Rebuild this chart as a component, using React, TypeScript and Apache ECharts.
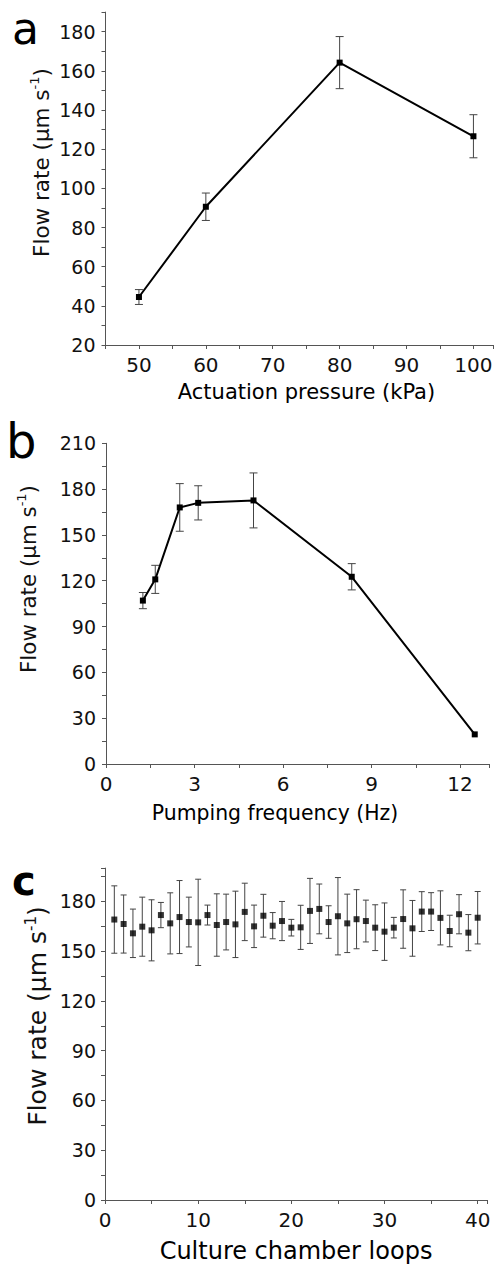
import React, { useEffect, useRef } from "react";
import * as echarts from "echarts";

// ---- Panel a: flow rate vs actuation pressure ----
const pressureKPa = [50, 60, 80, 100];
const flowA = [44.5, 90.6, 164.2, 126.6];
const errA = [3.8, 7.0, 13.3, 11.0];

// ---- Panel b: flow rate vs pumping frequency ----
const freqHz = [1.25, 1.67, 2.5, 3.125, 5, 8.33, 12.5];
const flowB = [107.0, 120.9, 168.0, 171.0, 172.6, 122.6, 19.4];
const errB = [5.3, 9.2, 15.6, 11.2, 18.0, 8.6, 0];

// ---- Panel c: flow rate per culture chamber loop ----
const loops = [
  1, 2, 3, 4, 5, 6, 7, 8, 9, 10, 11, 12, 13, 14, 15, 16, 17, 18, 19, 20,
  21, 22, 23, 24, 25, 26, 27, 28, 29, 30, 31, 32, 33, 34, 35, 36, 37, 38, 39, 40,
];
const flowC = [
  169.0, 166.3, 160.7, 164.7, 162.5, 171.7, 166.7, 170.5, 167.5, 167.3,
  171.7, 165.7, 167.5, 166.1, 173.6, 164.9, 171.3, 165.3, 168.1, 164.1,
  164.3, 174.2, 175.4, 167.5, 171.0, 166.7, 169.2, 168.1, 164.1, 161.7,
  164.1, 169.3, 163.7, 173.8, 173.8, 170.0, 162.1, 172.2, 161.1, 170.1,
];
const errC = [
  20.3, 17.5, 14.6, 17.8, 18.4, 7.6, 18.4, 22.0, 15.0, 26.0,
  6.0, 18.8, 16.8, 20.0, 17.3, 12.8, 12.9, 7.9, 11.8, 5.0,
  13.3, 19.6, 15.0, 9.8, 23.3, 17.6, 17.8, 12.6, 13.8, 17.3,
  6.2, 17.6, 16.8, 12.0, 11.4, 16.3, 9.5, 11.8, 10.9, 15.8,
];

const yTitle = "{t|Flow rate (μm s}{s|-1}{t|)}";
const titleA = "Actuation pressure (kPa)";
const titleB = "Pumping frequency (Hz)";
const titleC = "Culture chamber loops";

const FONT = "'DejaVu Sans', 'Liberation Sans', Arial, sans-serif";
const AXIS_COLOR = "#555";
const LABEL_COLOR = "#111";

function axisBase(fontSize: number) {
  return {
    type: "value" as const,
    axisLine: { show: true, onZero: false, lineStyle: { color: AXIS_COLOR, width: 1 } },
    axisTick: { show: true, length: 4, lineStyle: { color: AXIS_COLOR, width: 1 } },
    splitLine: { show: false },
    axisLabel: { color: LABEL_COLOR, fontFamily: FONT, fontSize, margin: 10 },
  };
}

function labelEvery(step: number, maxLabel: number) {
  return (v: number) => {
    const r = Math.abs(v / step - Math.round(v / step));
    return r < 1e-6 && v <= maxLabel + 1e-6 ? String(Math.round(v * 100) / 100) : "";
  };
}

function errorBars(idx: number, xs: number[], ys: number[], es: number[], cap: number) {
  return {
    type: "custom" as const,
    xAxisIndex: idx,
    yAxisIndex: idx,
    z: 1,
    silent: true,
    encode: { x: 0, y: 1 },
    data: xs.map((x, i) => [x, ys[i], es[i]]),
    renderItem: (_p: any, api: any) => {
      const x = api.value(0);
      const m = api.value(1);
      const e = api.value(2);
      if (!e) return { type: "group", children: [] };
      const hi = api.coord([x, m + e]);
      const lo = api.coord([x, m - e]);
      const style = { stroke: "#444", lineWidth: 1 };
      return {
        type: "group",
        children: [
          { type: "line", shape: { x1: hi[0], y1: hi[1], x2: lo[0], y2: lo[1] }, style },
          { type: "line", shape: { x1: hi[0] - cap, y1: hi[1], x2: hi[0] + cap, y2: hi[1] }, style },
          { type: "line", shape: { x1: lo[0] - cap, y1: lo[1], x2: lo[0] + cap, y2: lo[1] }, style },
        ],
      };
    },
  };
}

function yTitleText(x: number, y: number, fs: number) {
  return {
    type: "text",
    x,
    y,
    rotation: Math.PI / 2,
    silent: true,
    style: {
      text: yTitle,
      fill: LABEL_COLOR,
      align: "center",
      verticalAlign: "middle",
      fontFamily: FONT,
      fontSize: fs,
      rich: {
        t: { fontFamily: FONT, fontSize: fs, fill: LABEL_COLOR },
        s: { fontFamily: FONT, fontSize: Math.round(fs * 0.6), fill: LABEL_COLOR, padding: [0, 0, 14, 0] },
      },
    },
  };
}

function plainText(x: number, y: number, text: string, fs: number, weight = "normal", align = "center") {
  return {
    type: "text",
    x,
    y,
    silent: true,
    style: {
      text,
      fill: "#000",
      align,
      verticalAlign: "middle",
      fontFamily: FONT,
      fontSize: fs,
      fontWeight: weight,
    },
  };
}

export default function App() {
  const ref = useRef<HTMLDivElement>(null);

  useEffect(() => {
    document.body.style.margin = "0";
    if (!ref.current) return;
    const chart = echarts.init(ref.current, undefined, { renderer: "svg" });

    const option: any = {
      animation: false,
      backgroundColor: "#fff",
      textStyle: { fontFamily: FONT },
      grid: [
        { left: 105.5, top: 12.1, width: 388, height: 332.9, outerBoundsMode: "none" },
        { left: 106, top: 443.3, width: 383.5, height: 320.7, outerBoundsMode: "none" },
        { left: 105, top: 868.1, width: 382, height: 331.9, outerBoundsMode: "none" },
      ],
      xAxis: [
        {
          ...axisBase(20), gridIndex: 0, min: 45, max: 103, interval: 5,
          axisLabel: { ...axisBase(20).axisLabel, formatter: labelEvery(10, 100) },
        },
        {
          ...axisBase(20), gridIndex: 1, min: 0, max: 13, interval: 1.5,
          axisLabel: { ...axisBase(20).axisLabel, formatter: labelEvery(3, 12) },
        },
        {
          ...axisBase(20), gridIndex: 2, min: 0, max: 41, interval: 5,
          axisLabel: { ...axisBase(20).axisLabel, formatter: labelEvery(10, 40) },
        },
      ],
      yAxis: [
        {
          ...axisBase(19), gridIndex: 0, min: 20, max: 190, interval: 10,
          axisLabel: { ...axisBase(19).axisLabel, formatter: labelEvery(20, 180) },
        },
        {
          ...axisBase(19), gridIndex: 1, min: 0, max: 210, interval: 15,
          axisLabel: { ...axisBase(19).axisLabel, formatter: labelEvery(30, 210) },
        },
        {
          ...axisBase(19), gridIndex: 2, min: 0, max: 200, interval: 15,
          axisLabel: { ...axisBase(19).axisLabel, margin: 9, formatter: labelEvery(30, 180) },
        },
      ],
      series: [
        errorBars(0, pressureKPa, flowA, errA, 4),
        {
          type: "line", xAxisIndex: 0, yAxisIndex: 0, z: 3,
          data: pressureKPa.map((x, i) => [x, flowA[i]]),
          symbol: "rect", symbolSize: 6, showSymbol: true,
          itemStyle: { color: "#000" },
          lineStyle: { color: "#000", width: 2 },
        },
        errorBars(1, freqHz, flowB, errB, 4),
        {
          type: "line", xAxisIndex: 1, yAxisIndex: 1, z: 3,
          data: freqHz.map((x, i) => [x, flowB[i]]),
          symbol: "rect", symbolSize: 6, showSymbol: true,
          itemStyle: { color: "#000" },
          lineStyle: { color: "#000", width: 2 },
        },
        errorBars(2, loops, flowC, errC, 3),
        {
          type: "scatter", xAxisIndex: 2, yAxisIndex: 2, z: 3,
          data: loops.map((x, i) => [x, flowC[i]]),
          symbol: "rect", symbolSize: 6,
          itemStyle: { color: "#000" },
        },
      ],
      graphic: [
        plainText(12, 28.5, "a", 44, "normal", "left"),
        plainText(6, 441.4, "b", 48, "normal", "left"),
        plainText(12, 881.2, "c", 40, "bold", "left"),
        yTitleText(41, 162.5, 21.5),
        yTitleText(28, 579, 21.4),
        yTitleText(37.5, 1016, 25),
        plainText(306.5, 391.5, titleA, 21),
        plainText(275, 813, titleB, 20.4),
        plainText(296, 1251, titleC, 24),
      ],
    };

    chart.setOption(option);
    return () => chart.dispose();
  }, []);

  return <div ref={ref} style={{ width: 494, height: 1265 }} />;
}
